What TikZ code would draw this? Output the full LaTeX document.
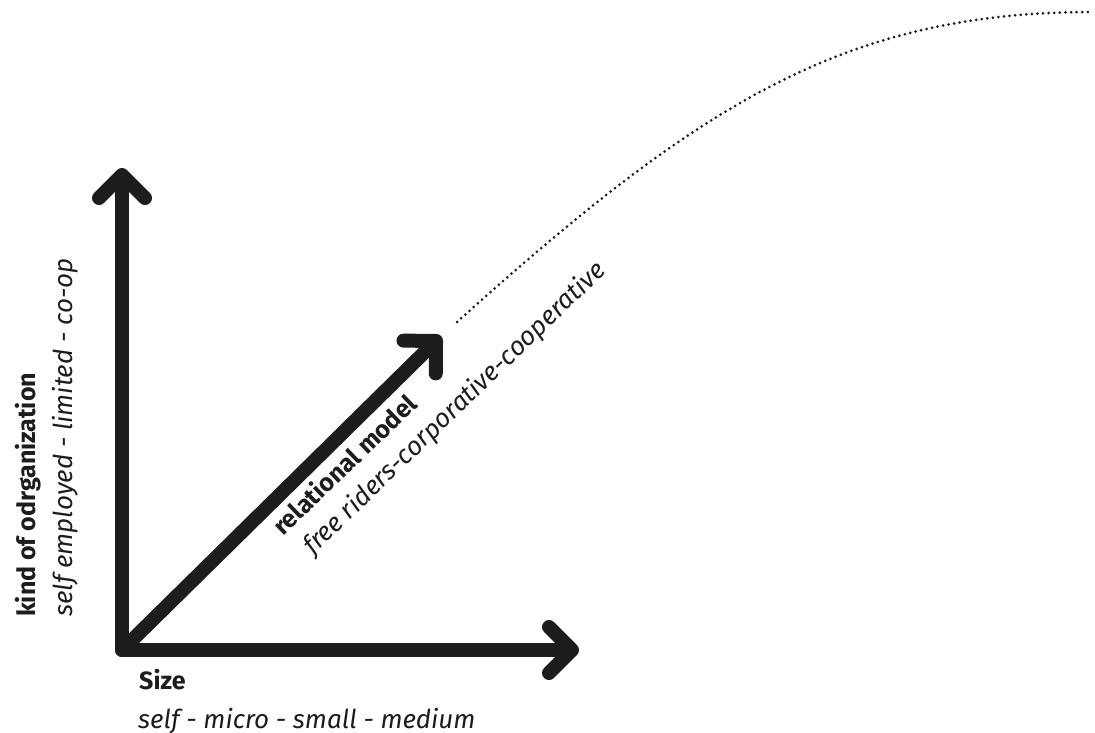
\documentclass[tikz,border=0pt]{standalone}
\usepackage{fontspec}
\setmainfont{Fira Sans}
\usetikzlibrary{arrows.meta}
\definecolor{ink}{HTML}{1D1D1B}
\begin{document}
\begin{tikzpicture}[x=1pt,y=-1pt,
  axis/.style={draw=ink, line width=14pt, line cap=round, line join=round},
  axistip/.tip={Straight Barb[round, length=23pt, width=46pt, line width=14pt]},
  dotline/.style={draw=ink, line width=3pt, line cap=round, dash pattern=on 0pt off 5.6pt},
  lab/.style={inner sep=0pt, text=ink},
  boldlab/.style={lab, font=\fontsize{25}{29}\selectfont\bfseries},
  itlab/.style={lab, font=\fontsize{26}{30}\selectfont\itshape}]
\useasboundingbox (0,0) rectangle (1095,733);

% origin and the ends of the three axes
\coordinate (O) at (122,650);
\coordinate (Ytip) at (122,168);
\coordinate (Xtip) at (579,650);
\coordinate (Dtip) at (441,336);

% axes
\draw[axis, axistip-axistip] (Ytip) -- (O) -- (Xtip);
\draw[axis, -axistip] (O) -- (Dtip);

% dotted continuation of the relational axis
\coordinate (dotA) at (457,322);
\coordinate (dotB) at (1093,12);
\draw[dotline] (dotA) .. controls (697,106) and (843,12) .. (dotB);

% horizontal axis labels
\node[boldlab, anchor=base west] (sizeT) at (139,689) {Size};
\node[itlab, anchor=base west] (sizeS) at (138,728) {self - micro - small - medium};

% vertical axis labels
\node[boldlab, rotate=90, anchor=base west] (kindT) at (35,617) {kind of odrganization};
\node[itlab, rotate=90, anchor=base west] (kindS) at (72,617) {self employed - limited - co-op};

% diagonal axis labels
\node[boldlab, rotate=44, anchor=base west] (relT) at (283,537) {relational model};
\node[itlab, rotate=44, anchor=base west] (relS) at (313,556) {free riders-corporative-cooperative};
\end{tikzpicture}
\end{document}
